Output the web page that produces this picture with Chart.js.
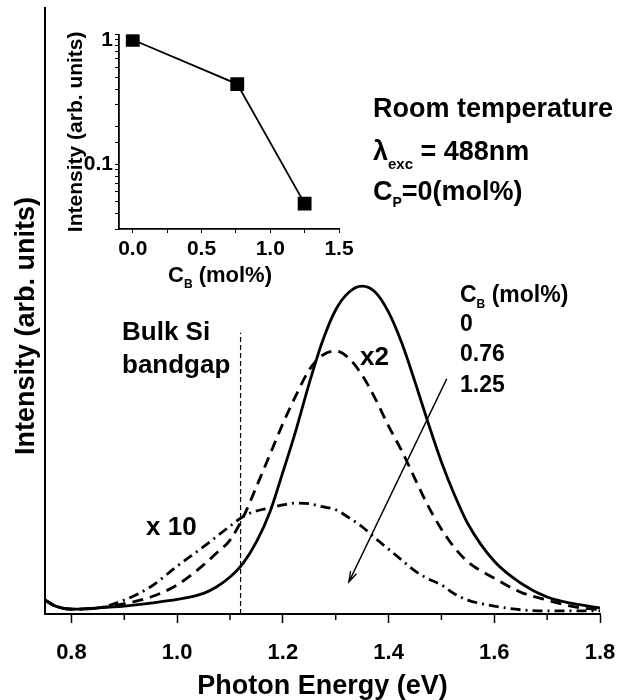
<!DOCTYPE html>
<html>
<head>
<meta charset="utf-8">
<script src="https://cdn.jsdelivr.net/npm/chart.js@4.4.1/dist/chart.umd.min.js"></script>
<style>
  body { margin: 0; background: #fff; }
  #wrap { position: relative; width: 617px; height: 700px; }
  #mainChart { position: absolute; left: 0; top: 0; }
  #insetChart { position: absolute; left: 55px; top: 20px; }
</style>
</head>
<body>
<div id="wrap">
  <canvas id="mainChart" width="617" height="700"></canvas>
  <canvas id="insetChart" width="305" height="270"></canvas>
</div>
<script>
// Main PL spectra (photon energy in eV, intensity in arb. units)
const energy = [0.75, 0.77, 0.8, 0.85, 0.9, 0.95, 1.0, 1.05, 1.075, 1.1, 1.125, 1.15, 1.175, 1.2, 1.225, 1.25, 1.275,
  1.3, 1.325, 1.35, 1.375, 1.4, 1.425, 1.45, 1.475, 1.5, 1.525, 1.55, 1.6, 1.65, 1.7, 1.75, 1.8];
const intCB0 = [2.3, 1.3, 0.8, 1.0, 1.3, 1.8, 2.4, 3.4, 4.5, 6.1, 8.4, 11.9, 16.7, 23.4, 30.4, 38.1, 45.0,
  50.2, 53.1, 54.1, 53.1, 49.8, 44.7, 38.3, 31.5, 25.1, 19.6, 14.9, 8.7, 5.1, 2.8, 1.7, 1.0];
const intCB076 = [2.3, 1.3, 0.8, 1.0, 1.7, 2.8, 4.8, 8.1, 10.1, 12.2, 16.0, 21.0, 26.2, 31.4, 36.1, 40.3, 42.7,
  43.4, 42.2, 39.4, 35.5, 31.0, 26.9, 22.3, 17.8, 14.0, 10.9, 8.6, 5.9, 3.6, 2.3, 1.2, 0.7];
const intCB125 = [2.3, 1.3, 0.8, 1.0, 2.3, 4.5, 7.9, 11.1, 12.8, 14.5, 16.1, 17.0, 17.5, 18.0, 18.3, 18.2, 17.7,
  17.2, 15.9, 14.4, 12.5, 10.7, 8.9, 7.1, 5.8, 4.8, 3.3, 2.3, 1.3, 0.7, 0.5, 0.5, 0.5];

// Bulk Si bandgap marker and the trend arrow
const bandgapE = [1.12, 1.12];
const bandgapI = [0, 46.4];
const arrowE = [1.51, 1.325];
const arrowI = [38.8, 5.3];

// Inset: integrated intensity vs boron content
const cB = [0, 0.76, 1.25];
const relIntensity = [1.0, 0.44, 0.048];

const FONT = '"Liberation Sans", Arial, sans-serif';
Chart.defaults.font.family = FONT;
Chart.defaults.font.weight = 'bold';
Chart.defaults.color = '#000';

function toPoints(xs, ys) {
  return xs.map((x, i) => ({ x: x, y: ys[i] }));
}

// Draws a run of text pieces: [text, fontSize, baselineShift]
function drawRich(ctx, pieces, x, y) {
  let cx = x;
  pieces.forEach(p => {
    ctx.font = 'bold ' + p[1] + 'px ' + FONT;
    ctx.fillText(p[0], cx, y + (p[2] || 0));
    cx += ctx.measureText(p[0]).width;
  });
}

const annotations = {
  id: 'annotations',
  afterDraw(chart) {
    const ctx = chart.ctx;
    const xs = chart.scales.x;
    const ys = chart.scales.y;
    ctx.save();
    ctx.fillStyle = '#000';
    ctx.strokeStyle = '#000';

    // minor ticks on the energy axis
    ctx.lineWidth = 1.5;
    [0.9, 1.1, 1.3, 1.5, 1.7].forEach(v => {
      const px = xs.getPixelForValue(v);
      ctx.beginPath();
      ctx.moveTo(px, xs.top);
      ctx.lineTo(px, xs.top + 6);
      ctx.stroke();
    });

    // arrow head
    const x0 = xs.getPixelForValue(arrowE[0]), y0 = ys.getPixelForValue(arrowI[0]);
    const x1 = xs.getPixelForValue(arrowE[1]), y1 = ys.getPixelForValue(arrowI[1]);
    const ang = Math.atan2(y1 - y0, x1 - x0);
    ctx.lineWidth = 1.4;
    ctx.beginPath();
    ctx.moveTo(x1 - 11 * Math.cos(ang - 0.3), y1 - 11 * Math.sin(ang - 0.3));
    ctx.lineTo(x1, y1);
    ctx.lineTo(x1 - 11 * Math.cos(ang + 0.3), y1 - 11 * Math.sin(ang + 0.3));
    ctx.stroke();

    ctx.textBaseline = 'alphabetic';
    ctx.textAlign = 'left';
    // conditions
    drawRich(ctx, [['Room temperature', 27]], 373, 117);
    drawRich(ctx, [['\u03BB', 27], ['exc', 15, 9], [' = 488nm', 27]], 373, 160);
    drawRich(ctx, [['C', 27], ['P', 14, 7], ['=0(mol%)', 27]], 373, 200);

    // labels on the curves
    drawRich(ctx, [['Bulk Si', 26]], 122, 340);
    drawRich(ctx, [['bandgap', 26]], 122, 373);
    drawRich(ctx, [['x 10', 26]], 146, 535);
    drawRich(ctx, [['x2', 26]], 360, 365);

    // series key
    drawRich(ctx, [['C', 23], ['B', 12, 6], [' (mol%)', 23]], 460, 302);
    drawRich(ctx, [['0', 23]], 460, 331);
    drawRich(ctx, [['0.76', 23]], 460, 361);
    drawRich(ctx, [['1.25', 23]], 460, 392);
    ctx.restore();
  }
};

const spectrumStyle = {
  borderColor: '#000',
  borderWidth: 2.8,
  pointRadius: 0,
  fill: false,
  cubicInterpolationMode: 'monotone'
};

new Chart(document.getElementById('mainChart'), {
  type: 'line',
  data: {
    datasets: [
      Object.assign({ label: '0', data: toPoints(energy, intCB0) }, spectrumStyle),
      Object.assign({ label: '0.76', data: toPoints(energy, intCB076), borderDash: [11, 7] }, spectrumStyle),
      Object.assign({ label: '1.25', data: toPoints(energy, intCB125), borderDash: [10, 5, 2, 5] }, spectrumStyle),
      { label: 'bandgap', data: toPoints(bandgapE, bandgapI), borderColor: '#000', borderWidth: 1.2,
        borderDash: [5, 3], pointRadius: 0 },
      { label: 'arrow', data: toPoints(arrowE, arrowI), borderColor: '#000', borderWidth: 1.4, pointRadius: 0 }
    ]
  },
  options: {
    responsive: false,
    animation: false,
    layout: { padding: { top: 8, right: 17, left: 0, bottom: 0 } },
    plugins: { legend: { display: false }, tooltip: { enabled: false } },
    scales: {
      x: {
        type: 'linear',
        min: 0.75,
        max: 1.8,
        afterFit(scale) { scale.height = 86; },
        border: { color: '#000', width: 2 },
        grid: { drawOnChartArea: false, drawTicks: true, tickLength: 9, tickColor: '#000', tickWidth: 1.5 },
        ticks: {
          stepSize: 0.2,
          includeBounds: false,
          autoSkip: false,
          maxRotation: 0,
          padding: 1,
          font: { size: 22, lineHeight: 2.6 },
          callback: v => v.toFixed(1)
        },
        title: {
          display: true,
          text: 'Photon Energy (eV)',
          font: { size: 27, lineHeight: 1 },
          padding: { top: 0, bottom: 0 }
        }
      },
      y: {
        min: 0,
        max: 100,
        afterFit(scale) { scale.width = 45; },
        border: { color: '#000', width: 2 },
        grid: { display: false },
        ticks: { display: false },
        title: {
          display: true,
          text: 'Intensity (arb. units)    ',
          font: { size: 27, lineHeight: 1.2 },
          padding: { top: 10, bottom: 0 }
        }
      }
    }
  },
  plugins: [annotations]
});

const insetTitle = {
  id: 'insetTitle',
  afterDraw(chart) {
    const ctx = chart.ctx;
    const area = chart.chartArea;
    ctx.save();
    ctx.fillStyle = '#000';
    ctx.textBaseline = 'alphabetic';
    drawRich(ctx, [['C', 22], ['B', 12, 6], [' (mol%)', 22]], area.left + 49, 262);
    ctx.restore();
  }
};

new Chart(document.getElementById('insetChart'), {
  type: 'line',
  data: {
    datasets: [{
      data: toPoints(cB, relIntensity),
      borderColor: '#000',
      borderWidth: 1.8,
      pointStyle: 'rect',
      pointRadius: 8.5,
      pointBackgroundColor: '#000',
      pointBorderColor: '#000',
      tension: 0
    }]
  },
  options: {
    responsive: false,
    animation: false,
    layout: { padding: { top: 13, right: 21, left: 0, bottom: 0 } },
    plugins: { legend: { display: false }, tooltip: { enabled: false } },
    scales: {
      x: {
        type: 'linear',
        min: -0.1,
        max: 1.5,
        afterFit(scale) { scale.height = 61; },
        border: { color: '#000', width: 1.8 },
        grid: { drawOnChartArea: false, tickLength: 4, tickColor: '#000' },
        ticks: {
          stepSize: 0.25,
          includeBounds: false,
          autoSkip: false,
          maxRotation: 0,
          padding: 2,
          font: { size: 21, lineHeight: 1.4 },
          callback: v => (Math.abs(v * 2 - Math.round(v * 2)) < 1e-6 ? v.toFixed(1) : '')
        }
      },
      y: {
        type: 'logarithmic',
        min: 0.03,
        max: 1.1,
        afterFit(scale) { scale.width = 64; },
        border: { color: '#000', width: 1.8 },
        grid: { drawOnChartArea: false, tickLength: 4, tickColor: '#000' },
        ticks: {
          autoSkip: false,
          padding: 2,
          font: { size: 21 },
          callback: v => {
            const l = Math.log10(v);
            if (Math.abs(l - Math.round(l)) > 1e-6) return '';
            return v >= 1 ? '1' : String(v);
          }
        },
        title: {
          display: true,
          text: 'Intensity (arb. units)',
          font: { size: 21, lineHeight: 1.2 },
          padding: { top: 9, bottom: 0 }
        }
      }
    }
  },
  plugins: [insetTitle]
});
</script>
</body>
</html>
